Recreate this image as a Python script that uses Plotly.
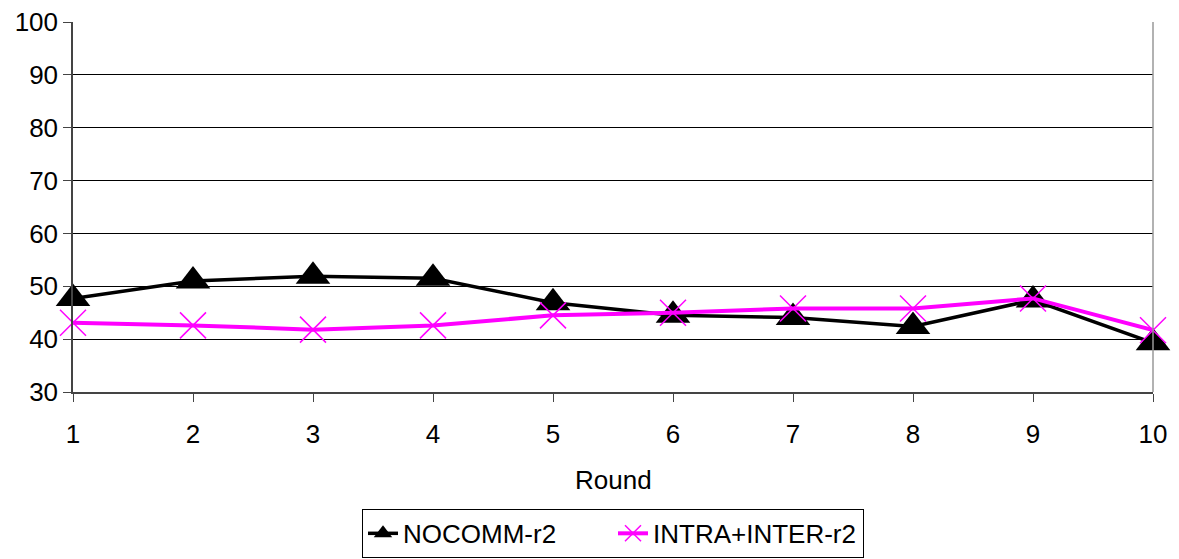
import plotly.graph_objects as go

rounds = [1, 2, 3, 4, 5, 6, 7, 8, 9, 10]
nocomm = [47.7, 51.0, 51.9, 51.5, 46.9, 44.5, 44.1, 42.4, 47.4, 39.3]
intra_inter = [43.1, 42.6, 41.8, 42.6, 44.5, 45.0, 45.8, 45.8, 47.7, 41.7]
y_ticks = [30, 40, 50, 60, 70, 80, 90, 100]

fig = go.Figure()
fig.add_trace(go.Scatter(
    x=rounds, y=nocomm, name="NOCOMM-r2", mode="lines+markers",
    line=dict(color="black", width=3.5),
    marker=dict(symbol="triangle-up", size=30, color="black"),
    cliponaxis=False,
))
fig.add_trace(go.Scatter(
    x=rounds, y=intra_inter, name="INTRA+INTER-r2", mode="lines+markers",
    line=dict(color="#FF00FF", width=4),
    marker=dict(symbol="x-thin-open", size=26, color="#FF00FF",
                line=dict(color="#FF00FF", width=1.5)),
    cliponaxis=False,
))

font = dict(family="Liberation Sans, Arial, sans-serif", size=26, color="black")

fig.update_layout(
    width=1179, height=600,
    margin=dict(l=73, r=26, t=22, b=208, autoexpand=False),
    paper_bgcolor="white", plot_bgcolor="white",
    font=font,
    showlegend=True,
    legend=dict(orientation="h", x=0.5, xanchor="center", y=-0.316, yanchor="top",
                bordercolor="black", borderwidth=1, font=font,
                entrywidth=205, entrywidthmode="pixels",
                itemsizing="trace", tracegroupgap=0),
    xaxis=dict(range=[1, 10], tickvals=rounds, ticktext=[str(r) for r in rounds],
               showgrid=False, zeroline=False, automargin=False,
               showline=True, linecolor="#444444", linewidth=1.5, mirror=False,
               ticks="outside", ticklen=8, tickcolor="#444444", ticklabelstandoff=10),
    yaxis=dict(range=[30, 100], tickvals=y_ticks, showgrid=True, gridcolor="black",
               gridwidth=1, zeroline=False, automargin=False,
               showline=True, linecolor="#444444", linewidth=1.5, mirror=False,
               ticks="outside", ticklen=8, tickcolor="#444444"),
    annotations=[dict(text="Round", xref="paper", yref="paper", x=0.5, y=-0.238,
                      xanchor="center", yanchor="middle", showarrow=False, font=font)],
)
# right border line of plot area
fig.add_shape(type="line", xref="paper", yref="paper", x0=1, x1=1, y0=0, y1=1,
              line=dict(color="#999999", width=1.5))

fig.write_html("out.html", config={"displayModeBar": False},
               post_script="document.body.style.margin='0';")
